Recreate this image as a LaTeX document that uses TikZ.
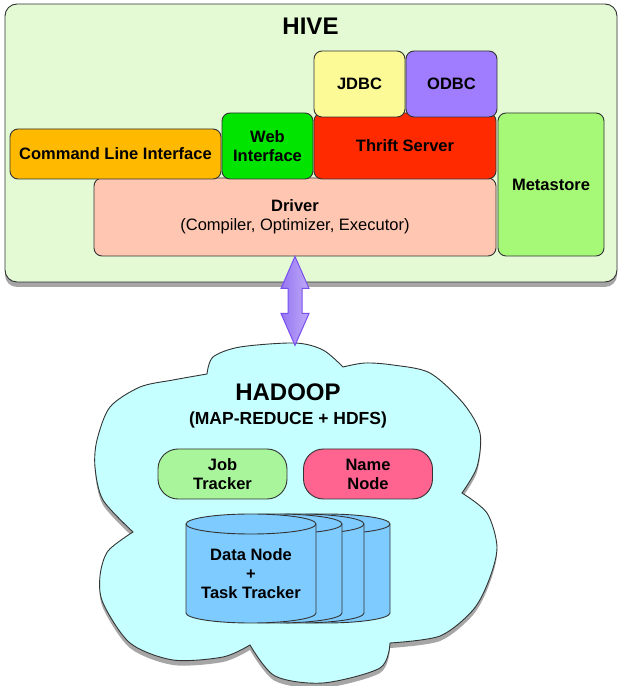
\documentclass[tikz,border=0pt]{standalone}
\usepackage{fontspec}
\setmainfont{Liberation Sans}
\usetikzlibrary{shadows,positioning}
\definecolor{hivebg}{RGB}{227,250,213}
\definecolor{jdbcfill}{RGB}{251,250,150}
\definecolor{odbcfill}{RGB}{160,124,255}
\definecolor{thriftfill}{RGB}{255,42,0}
\definecolor{webfill}{RGB}{0,228,0}
\definecolor{clifill}{RGB}{255,186,0}
\definecolor{driverfill}{RGB}{255,198,178}
\definecolor{metafill}{RGB}{166,248,119}
\definecolor{cloudfill}{RGB}{197,255,255}
\definecolor{jobfill}{RGB}{168,245,156}
\definecolor{namefill}{RGB}{255,100,145}
\definecolor{diskfill}{RGB}{126,203,255}
\definecolor{arrowleft}{RGB}{150,118,242}
\definecolor{arrowright}{RGB}{190,170,248}
\definecolor{arrowline}{RGB}{122,79,239}

\begin{document}
\begin{tikzpicture}[x=1pt,y=1pt,
	line width=0.9pt,
	blk/.style={draw=black!80,rounded corners=8pt,inner sep=0pt,align=center,
		font=\fontsize{16.5}{19}\selectfont\bfseries},
	pill/.style={blk,rounded corners=20pt,minimum width=129,minimum height=50},
	title/.style={font=\fontsize{24}{28}\selectfont\bfseries},
	shade/.style={drop shadow={shadow xshift=0pt,shadow yshift=-5pt,opacity=.35,fill=black}},
	hivearrow/.style={draw=arrowline,line width=1pt,left color=arrowleft,right color=arrowright},
	disk/.style={draw=black!80,fill=diskfill}]
	\useasboundingbox (0,0) rectangle (621,686);

	% HIVE
	\node[blk,shade,fill=hivebg,rounded corners=12pt,minimum width=612,minimum height=278] (hive) at (311,543) {};
	\node[title] (hivetitle) at (310.5,660) {HIVE};
	\node[blk,fill=driverfill,minimum width=402,minimum height=78] (driver) at (295,469)
		{Driver\\{\mdseries (Compiler, Optimizer, Executor)}};
	\node[blk,fill=clifill,minimum width=211,minimum height=50] (cli) at (115.5,532) {Command Line Interface};
	\node[blk,fill=webfill,minimum width=91,minimum height=66] (web) at (267.5,540) {Web\\Interface};
	\node[blk,fill=thriftfill,minimum width=182,minimum height=66] (thrift) at (405,540) {Thrift Server};
	\node[blk,fill=jdbcfill,minimum width=91,minimum height=66] (jdbc) at (359.5,602) {JDBC};
	\node[blk,fill=odbcfill,minimum width=91,minimum height=66] (odbc) at (451.5,602) {ODBC};
	\node[blk,fill=metafill,minimum width=106,minimum height=143] (meta) at (551,501.5) {Metastore};

	% HADOOP cloud
	\draw[draw=black!80,fill=cloudfill,shade]
		plot[smooth] coordinates {(207,312) (213,329) (240,339) (295,343) (323,336) (343,319)}
		-- plot[smooth] coordinates {(343,319) (365,323) (393,321) (430,313) (463,283) (480,253) (477,219) (462,193)}
		-- plot[smooth] coordinates {(462,193) (487,173) (497,139) (489,106) (473,76) (440,50) (390,43)}
		-- plot[smooth] coordinates {(390,43) (380,18) (323,3) (275,10) (250,41)}
		-- plot[smooth] coordinates {(250,41) (223,29) (173,26) (130,43) (103,83) (100,110) (108,135) (133,154)}
		-- plot[smooth] coordinates {(133,154) (103,186) (95,219) (97,246) (110,279) (140,299) (173,306) (207,312)}
		-- cycle;
	\coordinate (cloudtop) at (295,343);
	\node[title] (hadoop) at (288,294) {HADOOP};
	\node[font=\fontsize{17.5}{20}\selectfont\bfseries] (mrhdfs) at (288,266) {(MAP-REDUCE + HDFS)};
	\node[pill,fill=jobfill] (job) at (222.5,212) {Job\\Tracker};
	\node[pill,fill=namefill] (name) at (368,212) {Name\\Node};
	\foreach \dx in {74,48,26,0}{
		\filldraw[disk] (186+\dx,162) -- (186+\dx,73) arc[start angle=180,end angle=360,x radius=65,y radius=10]
			-- (316+\dx,162) arc[start angle=0,end angle=180,x radius=65,y radius=10] -- cycle;
		\draw[disk,fill=none] (186+\dx,162) arc[start angle=180,end angle=360,x radius=65,y radius=10];
	}
	\node[blk,draw=none] (datanode) at (251,112) {Data Node\\+\\Task Tracker};

	\draw[hivearrow] (driver.south) -- ++(14,-32) -- ++(-7,0) -- ++(0,-25) -- ++(7,0) -- ++(-14,-32)
		-- ++(-14,32) -- ++(7,0) -- ++(0,25) -- ++(-7,0) -- cycle;
\end{tikzpicture}
\end{document}
